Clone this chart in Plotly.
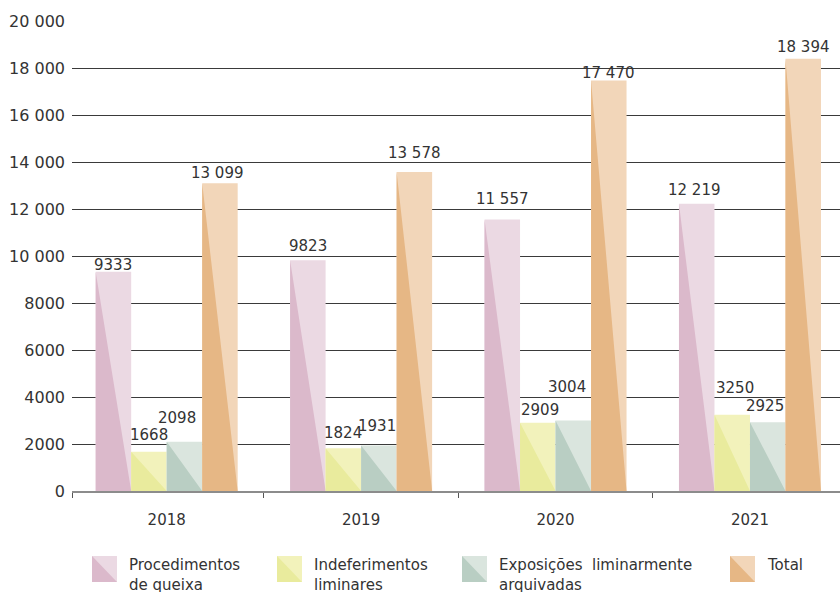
import plotly.graph_objects as go

# ---- data -------------------------------------------------------------
years = ["2018", "2019", "2020", "2021"]
series_names = [
    "Procedimentos<br>de queixa",
    "Indeferimentos<br>liminares",
    "Exposições\u00a0 liminarmente<br>arquivadas",
    "Total",
]
procedimentos = [9333, 9823, 11557, 12219]
indeferimentos = [1668, 1824, 2909, 3250]
exposicoes = [2098, 1931, 3004, 2925]
total = [13099, 13578, 17470, 18394]
y_ticks = [0, 2000, 4000, 6000, 8000, 10000, 12000, 14000, 16000, 18000, 20000]

# ---- styling ----------------------------------------------------------
light_colors = ["#EBD9E3", "#F2F2BB", "#DAE5DE", "#F2D6B9"]
dark_colors = ["#DBB9CB", "#E9EB9D", "#B9CEC3", "#E6B785"]
# small nudges (px) that keep neighbouring value labels apart
label_dy = [
    [-4, 3, 9, 3],
    [6, 4, 2, 16],
    [13, 9, 22, 5],
    [-1, 8, -4, 1],
]
label_dx = [
    [0, 0, 0, -2],
    [0, 0, 2, 3],
    [-7, -2, -6, -3],
    [-2, 0, 0, 0],
]

FONT = "DejaVu Sans"
TEXT = "#333333"
BAR_W = 0.1826
X_RANGE = [-0.487, 3.463]

# plot-area geometry in pixels, used to place the hand-built legend
L, R, T, B = 72, 840, 21, 491


def px_x(px):
    return (px - L) / (R - L)


def px_y(py):
    return (B - py) / (B - T)


def fmt(v):
    s = str(int(v))
    if v >= 10000:
        return s[:-3] + " " + s[-3:]
    return s


all_series = [procedimentos, indeferimentos, exposicoes, total]
offsets = [-1.5 * BAR_W, -0.5 * BAR_W, 0.5 * BAR_W, 1.5 * BAR_W]

fig = go.Figure()
annotations = []

for k, vals in enumerate(all_series):
    xs = [i + offsets[k] for i in range(len(years))]
    # light body of each bar
    fig.add_trace(go.Bar(
        x=xs, y=vals, width=BAR_W,
        marker=dict(color=light_colors[k], line=dict(width=0)),
        hoverinfo="skip", showlegend=False,
    ))
    # darker diagonal half: top-left -> bottom-left -> bottom-right
    tx, ty = [], []
    for x, v in zip(xs, vals):
        xl, xr = x - BAR_W / 2, x + BAR_W / 2
        tx += [xl, xl, xr, xl, None]
        ty += [v, 0, 0, v, None]
    fig.add_trace(go.Scatter(
        x=tx, y=ty, mode="lines", fill="toself",
        fillcolor=dark_colors[k], line=dict(width=0, color=dark_colors[k]),
        hoverinfo="skip", showlegend=False,
    ))
    # value labels
    for i, (x, v) in enumerate(zip(xs, vals)):
        annotations.append(dict(
            x=x, y=v, xref="x", yref="y", text=fmt(v), showarrow=False,
            xanchor="center", yanchor="bottom",
            yshift=label_dy[k][i], xshift=label_dx[k][i],
            font=dict(family=FONT, size=15, color=TEXT),
        ))

# ---- legend built from shapes + annotations ---------------------------
shapes = []
legend_icon_x = [92, 277, 462, 730]
icon_w, icon_top, icon_bot = 25, 556, 582
for k, name in enumerate(series_names):
    x0 = legend_icon_x[k]
    x1 = x0 + icon_w
    shapes.append(dict(
        type="rect", xref="paper", yref="paper",
        x0=px_x(x0), x1=px_x(x1), y0=px_y(icon_bot), y1=px_y(icon_top),
        fillcolor=light_colors[k], line=dict(width=0),
    ))
    shapes.append(dict(
        type="path", xref="paper", yref="paper",
        path="M {a},{b} L {a},{c} L {d},{c} Z".format(
            a=px_x(x0), b=px_y(icon_top), c=px_y(icon_bot), d=px_x(x1)),
        fillcolor=dark_colors[k], line=dict(width=0),
    ))
    annotations.append(dict(
        x=px_x(x1 + 10), y=px_y(554), xref="paper", yref="paper",
        text=name, showarrow=False, xanchor="left", yanchor="top",
        align="left", font=dict(family=FONT, size=15, color=TEXT),
    ))

fig.update_layout(
    width=840, height=592,
    margin=dict(l=L, r=840 - R, t=T, b=592 - B),
    plot_bgcolor="white", paper_bgcolor="white",
    barmode="overlay", showlegend=False,
    font=dict(family=FONT, color=TEXT),
    shapes=shapes, annotations=annotations,
    xaxis=dict(
        range=X_RANGE, tickmode="array",
        tickvals=list(range(len(years))), ticktext=years,
        ticks="", showgrid=False, zeroline=False,
        showline=True, linecolor="#8c8c8c", linewidth=1.5,
        tickfont=dict(family=FONT, size=15, color=TEXT),
        ticklabelstandoff=14,
        minor=dict(tickvals=[X_RANGE[0], 0.5, 1.5, 2.5], ticks="outside",
                   ticklen=5, tickcolor="#555555", tickwidth=1, showgrid=False),
        fixedrange=True,
    ),
    yaxis=dict(
        range=[0, 20000], tickmode="array", tickvals=y_ticks,
        ticktext=[fmt(v) for v in y_ticks],
        showgrid=True, gridcolor="#3a3a3a", gridwidth=1,
        zeroline=False, showline=False, ticks="",
        tickfont=dict(family=FONT, size=16, color=TEXT),
        ticklabelstandoff=6,
        fixedrange=True,
    ),
)

fig.write_html("out.html")
